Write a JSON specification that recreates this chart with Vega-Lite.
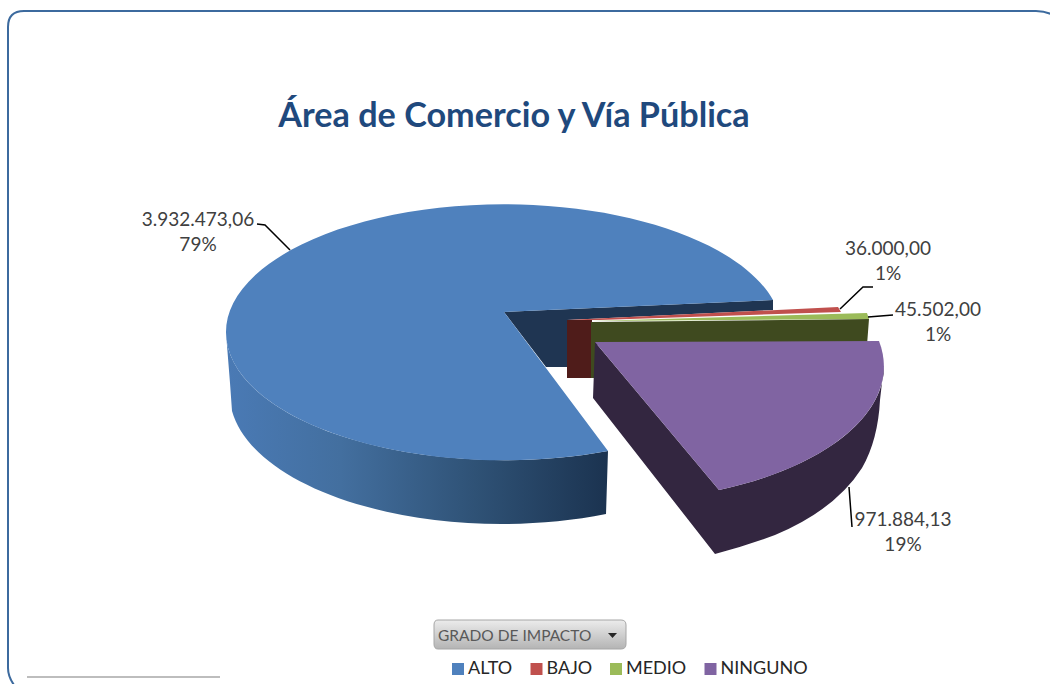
{
"$schema":"https://vega.github.io/schema/vega-lite/v6.json",
"width":1050,"height":684,"padding":0,"autosize":"none","background":"white",
"config":{"view":{"stroke":null}},
"title":{"text":"Área de Comercio y Vía Pública","anchor":"middle","frame":"group","font":"Lato","fontSize":34.2,"fontWeight":"bold","color":"#1f497d","baseline":"alphabetic","offset":0,"dx":-11,"dy":161},
"datasets":{
"grados":[
{"grado":"ALTO","valor":3932473.06,"porcentaje":79,"etiqueta":"3.932.473,06\n79%"},
{"grado":"BAJO","valor":36000.00,"porcentaje":1,"etiqueta":"36.000,00\n1%"},
{"grado":"MEDIO","valor":45502.00,"porcentaje":1,"etiqueta":"45.502,00\n1%"},
{"grado":"NINGUNO","valor":971884.13,"porcentaje":19,"etiqueta":"971.884,13\n19%"}],
"filtro":[{"nombre":"GRADO DE IMPACTO"}]
},
"data":{"name":"grados"},
"layer":[
{"data":{"name":"filtro"},"mark":{"type":"point","filled":false,"opacity":1,"size":4,"stroke":"#3c6a9e","strokeWidth":2,"shape":"M545,-302 Q537,-331 511,-331 L-501,-331 Q-517,-331 -517,-315 L-517,326 Q-517,338 -505,350"}},
{"data":{"name":"filtro"},"mark":{"type":"point","filled":false,"opacity":1,"size":4,"stroke":"#bdbdbd","strokeWidth":2,"shape":"M-498,335 L-305,335"}},
{"transform":[{"filter":"datum.grado==='ALTO'"}],
 "mark":{"type":"point","filled":true,"opacity":1,"size":4,"shape":"M-299,-9 L-295,41 L-293,69 A272 130 0 0 0 81,172 L83,109 A278 128 0 0 1 -299,-9 Z",
 "fill":{"gradient":"linear","x1":0,"x2":1,"y1":0,"y2":0,"stops":[{"offset":0,"color":"#4a7ab5"},{"offset":0.3,"color":"#436f9f"},{"offset":0.65,"color":"#2f5276"},{"offset":1,"color":"#1b3350"}]}}},
{"mark":{"type":"point","filled":true,"opacity":1,"size":4},
 "encoding":{
 "shape":{"field":"grado","type":"nominal","legend":null,"scale":{"domain":["ALTO","BAJO","MEDIO","NINGUNO"],"range":[
 "M-21,-30 L248,-42 L248,-32 L42,-22 L42,25 L21,25 Z",
 "M42,-22 L67,-22 L66,36 L42,36 Z",
 "M66,-20 L344,-23 L342,3 L71,3 L71,36 L66,36 Z",
 "M70,0 L68,56 L190,212 L194,148 Z M194,148 A275 135 0 0 0 359,23 L355,58 Q353,98 337,126 Q310,168 250,193 Q220,204 190,212 Z"]}},
 "color":{"field":"grado","type":"nominal","legend":null,"scale":{"domain":["ALTO","BAJO","MEDIO","NINGUNO"],"range":["#1f3552","#4f1c1a","#3f4a1f","#332640"]}}}},
{"mark":{"type":"point","filled":true,"opacity":1,"size":4},
 "encoding":{
 "shape":{"field":"grado","type":"nominal","legend":null,"scale":{"domain":["ALTO","BAJO","MEDIO","NINGUNO"],"range":[
 "M248,-42 A278 128 0 1 0 83,109 L-21,-30 Z",
 "M42,-22 L313,-35 L316,-30 L75,-22 Z",
 "M66,-21 L342,-29 L344,-23 Z",
 "M70,0 L354,-1 A275 135 0 0 1 194,148 Z"]}},
 "color":{"field":"grado","type":"nominal","legend":null,"scale":{"domain":["ALTO","BAJO","MEDIO","NINGUNO"],"range":["#4f81bd","#c0504d","#9bbb59","#8064a2"]}}}},
{"mark":{"type":"square","filled":true,"opacity":1,"size":0},
 "encoding":{
 "color":{"field":"grado","type":"nominal","scale":{"domain":["ALTO","BAJO","MEDIO","NINGUNO"],"range":["#4f81bd","#c0504d","#9bbb59","#8064a2"]},
 "legend":{"orient":"none","legendX":449,"legendY":660,"direction":"horizontal","columns":4,"title":null,"symbolType":"square","symbolSize":144,"symbolOpacity":1,"symbolStrokeWidth":0,"labelFont":"Lato","labelFontSize":18,"labelColor":"#262626","columnPadding":14.5,"labelOffset":1}}}},
{"data":{"name":"filtro"},"mark":{"type":"point","filled":false,"opacity":1,"size":4,"stroke":"#000000","strokeWidth":1.5,"shape":"M-268,-118 L-260,-117 L-235,-92 M315,-33 L338,-55 L348,-55 M343,-25 L368,-27 M324,145 L327,185"}},
{"transform":[{"filter":"datum.grado==='ALTO'"}],"mark":{"type":"text","font":"Lato","fontSize":19,"color":"#404040","lineBreak":"\n","lineHeight":24.5,"align":"center","baseline":"alphabetic","dx":-327,"dy":-116},"encoding":{"text":{"field":"etiqueta"}}},
{"transform":[{"filter":"datum.grado==='BAJO'"}],"mark":{"type":"text","font":"Lato","fontSize":19,"color":"#404040","lineBreak":"\n","lineHeight":24.5,"align":"center","baseline":"alphabetic","dx":363,"dy":-87},"encoding":{"text":{"field":"etiqueta"}}},
{"transform":[{"filter":"datum.grado==='MEDIO'"}],"mark":{"type":"text","font":"Lato","fontSize":19,"color":"#404040","lineBreak":"\n","lineHeight":24.5,"align":"center","baseline":"alphabetic","dx":413,"dy":-26},"encoding":{"text":{"field":"etiqueta"}}},
{"transform":[{"filter":"datum.grado==='NINGUNO'"}],"mark":{"type":"text","font":"Lato","fontSize":19,"color":"#404040","lineBreak":"\n","lineHeight":24.5,"align":"center","baseline":"alphabetic","dx":378,"dy":184},"encoding":{"text":{"field":"etiqueta"}}},
{"data":{"name":"filtro"},"mark":{"type":"point","filled":true,"opacity":1,"size":4,"stroke":"#a6a6a6","strokeWidth":1,"shape":"M-87,278 L96,278 Q101,278 101,283 L101,302 Q101,307 96,307 L-87,307 Q-91,307 -91,302 L-91,283 Q-91,278 -87,278 Z",
 "fill":{"gradient":"linear","x1":0,"x2":0,"y1":0,"y2":1,"stops":[{"offset":0,"color":"#ececec"},{"offset":1,"color":"#b4b4b4"}]}}},
{"data":{"name":"filtro"},"mark":{"type":"point","filled":true,"opacity":1,"size":4,"fill":"#262626","shape":"M83,291 L92,291 L87.5,296 Z"}},
{"data":{"name":"filtro"},"mark":{"type":"text","font":"Lato","fontSize":15.5,"color":"#595959","align":"left","baseline":"middle","dx":-87,"dy":294},"encoding":{"text":{"field":"nombre"}}}
],
"resolve":{"scale":{"shape":"independent","color":"independent"}}
}
